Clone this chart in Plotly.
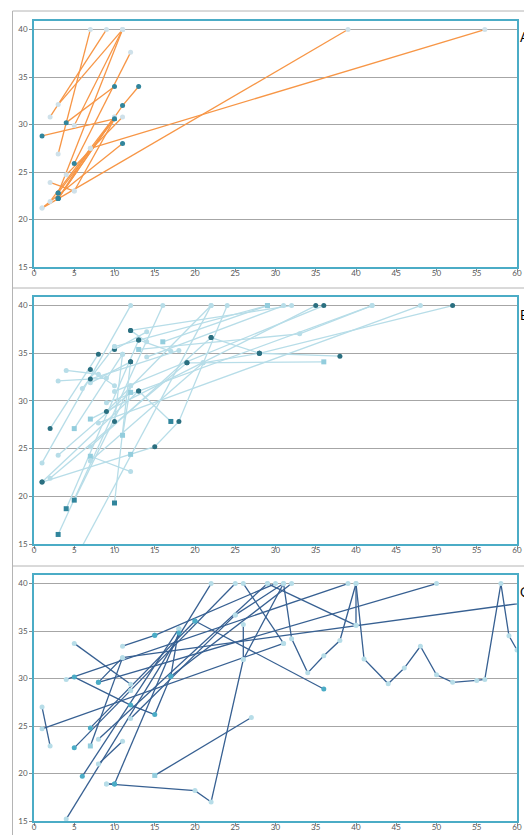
import plotly.graph_objects as go

# ---------------- data (segments separated by None) ----------------
# kinds: L = light circle, D = dark circle, S = dark square, s = light square, T = teal, N = none
a_x = [3, 7, None, 2, 9, None, 3, 11, None, 5, 11, None, 4, 10, None, 1, 10, None,
       3, 11, 13, None, 5, 12, None, 3, 11, None, 1, 39, None, 7, 56, None, 2, 5, None,
       2, 10, None, 4, 11, None, 1, 11, None, 3, 10, None, 3, 10, None, 5, 10, None, 3, 7]
a_y = [26.9, 40, None, 30.8, 40, None, 32.1, 40, None, 29.9, 40, None, 30.2, 34, None, 28.8, 30.6, None,
       22.2, 32, 34, None, 25.9, 37.6, None, 22.8, 40, None, 21.2, 40, None, 27.5, 40, None, 23.9, 23, None,
       21.9, 30.8, None, 24.7, 30.8, None, 21.2, 28, None, 22.8, 30.6, None, 22.2, 30.8, None, 23, 30.6, None, 22.2, 27.5]
a_k = ['L', 'L', None, 'L', 'L', None, 'L', 'L', None, 'L', 'L', None, 'D', 'D', None, 'D', 'D', None,
       'D', 'D', 'D', None, 'D', 'L', None, 'D', 'L', None, 'L', 'L', None, 'L', 'L', None, 'L', 'L', None,
       'L', 'L', None, 'L', 'L', None, 'L', 'D', None, 'D', 'D', None, 'D', 'L', None, 'L', 'D', None, 'D', 'L']

b_x = [2, 8, None, 1, 12, None, 4, 8, None, 3, 9, None, 7, 10, None, 3, 16, None, 5.5, 22, None,
       4, 13, None, 5, 12, None, 10, 12, None, 1, 13, None, 2, 19, None, 1, 12, 15, 18, 24, None,
       7, 12, None, 3, 12, None, 13, 17, None, 11, 12, None, 10, 14, None, 9, 22, None, 7, 35, None,
       10, 36, None, 9, 42, None, 8, 48, None, 22, 28, 52, None, 28, 38, None, 13, 33, 42, None,
       16, 29, None, 14, 31, None, 12, 32, None, 19, 36, None, 21, 28, None, 13, 17, None, 5, 11, None,
       6, 10, None, 7, 12, None, 7, 18, None, 12, 14, None, 10, 11, None, 7, 22, None, 7, 21, None, 10, 29]
b_y = [27.1, 34.9, None, 23.5, 40, None, 33.2, 32.8, None, 32.1, 32.4, None, 33.3, 31.6, None, 16, 40, None, 14, 40, None,
       18.7, 36.4, None, 19.6, 31.6, None, 19.3, 34.1, None, 21.5, 31.05, None, 21.9, 34, None, 21.5, 24.4, 25.2, 27.85, 40, None,
       24.2, 22.6, None, 24.3, 30.9, None, 31.05, 27.85, None, 26.4, 31.6, None, 35.4, 37.25, None, 28.9, 40, None, 28.1, 40, None,
       31, 40, None, 29.8, 40, None, 27.7, 40, None, 36.65, 35, 40, None, 35, 34.7, None, 35.4, 37.04, 40, None,
       36.2, 40, None, 34.6, 40, None, 37.4, 40, None, 34, 34.1, None, 34, 35, None, 36.4, 35.2, None, 27.1, 34.9, None,
       31.3, 35.7, None, 31.9, 34.1, None, 32.3, 35.3, None, 37.4, 36.2, None, 27.85, 34.9, None, 25.2, 36.65, None, 23.7, 34, None, 35.7, 40]
b_k = ['D', 'D', None, 'L', 'L', None, 'L', 'L', None, 'L', 'L', None, 'D', 'L', None, 'S', 'L', None, 'N', 'L', None,
       'S', 'D', None, 'S', 'L', None, 'S', 'D', None, 'D', 'D', None, 'L', 'D', None, 'D', 's', 'D', 'D', 'L', None,
       's', 'L', None, 'L', 's', None, 'D', 'S', None, 's', 'L', None, 'D', 'L', None, 'D', 'L', None, 's', 'D', None,
       'L', 'D', None, 'L', 'L', None, 'L', 'L', None, 'D', 'D', 'D', None, 'D', 'D', None, 's', 'L', 'L', None,
       's', 's', None, 'L', 'L', None, 'D', 'L', None, 'D', 's', None, 'L', 'D', None, 'D', 'L', None, 's', 'L', None,
       'L', 'L', None, 'L', 'D', None, 'D', 'L', None, 'D', 'L', None, 'D', 'L', None, 'L', 'D', None, 'L', 'L', None, 'L', 's']

c_x = [9, 20, 22, 26, 31, 32, 34, 36, 38, 40, 41, 44, 46, 48, 50, 52, 55, 56, 58, 59, 60, None,
       40, 40, None, 29, 40, None, 1, 2, None, 1, 31, None, 4, 22, None, 5, 12, None,
       4, 39, None, 5, 12, 15, 17, 18, None, 11, 15, None, 8, 11, 62, None, 7, 11, None,
       5, 12, None, 7, 20, None, 6, 18, None, 8, 11, None, 10, 18, None, 15, 27, None,
       12, 25, None, 20, 36, None, 26, 31, None, 8, 50, None, 15, 30, None, 12, 25, None,
       17, 32, None, 8, 29, None, 25, 31, None, 26, 26, None, 10, 9]
c_y = [18.9, 18.2, 17, 32, 40, 34.2, 30.6, 32.4, 34, 40, 32.05, 29.45, 31.1, 33.4, 30.4, 29.6, 29.8, 29.9, 40, 34.5, 33, None,
       40, 35.6, None, 40, 35.6, None, 27, 22.9, None, 24.7, 33.7, None, 15.2, 40, None, 33.7, 29.4, None,
       29.9, 40, None, 30.15, 27.2, 26.2, 30.25, 35.25, None, 33.4, 34.55, None, 29.6, 32.2, 38.1, None, 22.9, 32.2, None,
       22.7, 28.75, None, 24.8, 36.06, None, 19.7, 35.25, None, 21, 23.4, None, 18.9, 34.8, None, 19.8, 25.9, None,
       25.8, 36.7, None, 36.06, 28.9, None, 40, 33.7, None, 29.6, 40, None, 34.55, 40, None, 28.75, 40, None,
       30.25, 40, None, 23.6, 40, None, 36.7, 40, None, 32, 35.7, None, 18.9, 18.9]
c_k = ['L', 'L', 'L', 'L', 'L', 'L', 'L', 'L', 'L', 'L', 'L', 'L', 'L', 'L', 'L', 'L', 'L', 'L', 'L', 'L', 'L', None,
       'L', 'L', None, 'L', 'L', None, 'L', 'L', None, 'L', 'L', None, 'L', 'L', None, 'L', 'L', None,
       'L', 'L', None, 'T', 'T', 'T', 'T', 'L', None, 'L', 'T', None, 'T', 'L', 'N', None, 's', 'L', None,
       'T', 'L', None, 'T', 'T', None, 'T', 'L', None, 'L', 'L', None, 'T', 'T', None, 's', 'L', None,
       'L', 'L', None, 'T', 'T', None, 'L', 'L', None, 'T', 'L', None, 'T', 'L', None, 'L', 'L', None,
       'T', 'L', None, 'L', 'L', None, 'L', 'L', None, 'L', 'L', None, 'T', 'L']

panel_labels = ['A', 'B', 'C']
y_ticks = [15, 20, 25, 30, 35, 40]
x_ticks = list(range(0, 61, 5))

# ---------------- styling ----------------
W, H = 524, 835
panels = [
    dict(x=a_x, y=a_y, k=a_k, line='#f79646',
         colors={'L': '#cfe1ea', 'D': '#31859c', 'S': '#31859c', 's': '#a5d5e2', 'T': '#4bacc6', 'N': 'rgba(0,0,0,0)'},
         top=21, bottom=267, lab_y=37),
    dict(x=b_x, y=b_y, k=b_k, line='#b7dde8',
         colors={'L': '#b7dde8', 'D': '#2a6f80', 'S': '#31859c', 's': '#93cddd', 'T': '#4bacc6', 'N': 'rgba(0,0,0,0)'},
         top=297, bottom=544, lab_y=315),
    dict(x=c_x, y=c_y, k=c_k, line='#376092',
         colors={'L': '#b7dde8', 'D': '#31859c', 'S': '#31859c', 's': '#93cddd', 'T': '#4bacc6', 'N': 'rgba(0,0,0,0)'},
         top=575, bottom=821, lab_y=592),
]

fig = go.Figure()
layout = dict(width=W, height=H, margin=dict(l=0, r=0, t=0, b=0, autoexpand=False),
              paper_bgcolor='white', plot_bgcolor='white', showlegend=False,
              font=dict(family='Lato, Open Sans, sans-serif', size=8, color='#595959'))
annotations = []
shapes = []
xdom = [34 / W, 517 / W]
for i, p in enumerate(panels):
    n = '' if i == 0 else str(i + 1)
    symbols = [('square' if kk in ('S', 's') else 'circle') if kk else 'circle' for kk in p['k']]
    cols = [p['colors'][kk] if kk else 'rgba(0,0,0,0)' for kk in p['k']]
    fig.add_trace(go.Scatter(
        x=p['x'], y=p['y'], mode='lines+markers', connectgaps=False,
        line=dict(color=p['line'], width=1.3),
        marker=dict(size=5, color=cols, symbol=symbols, line=dict(width=0)),
        xaxis='x' + n, yaxis='y' + n, hoverinfo='skip'))
    ydom = [1 - p['bottom'] / H, 1 - p['top'] / H]
    layout['xaxis' + n] = dict(domain=xdom, range=[0, 60], tickvals=x_ticks, showgrid=False,
                               showline=True, mirror=True, linecolor='#4bacc6', linewidth=1.5,
                               ticks='outside', ticklen=3, tickcolor='#8c8c8c', zeroline=False,
                               ticklabelstandoff=-5, automargin=False,
                               anchor='y' + n, fixedrange=True)
    layout['yaxis' + n] = dict(domain=ydom, range=[15, 40.9], tickvals=y_ticks, showgrid=True,
                               gridcolor='#a6a6a6', gridwidth=1,
                               showline=True, mirror=True, linecolor='#4bacc6', linewidth=1.5,
                               ticks='outside', ticklen=3, tickcolor='#8c8c8c', zeroline=False,
                               automargin=False,
                               anchor='x' + n, fixedrange=True)
    annotations.append(dict(text=panel_labels[i], x=518 / W, y=1 - p['lab_y'] / H, xref='paper', yref='paper',
                            xanchor='left', yanchor='middle', showarrow=False,
                            font=dict(size=13, color='#000000', family='Lato, Open Sans, sans-serif')))

# outer chart-area frames
frame_col = '#b4b4b4'
shapes.append(dict(type='line', xref='paper', yref='paper', x0=12.5 / W, x1=12.5 / W, y0=0, y1=1 - 11 / H,
                   line=dict(color=frame_col, width=1)))
for yy in (11, 288, 566):
    shapes.append(dict(type='line', xref='paper', yref='paper', x0=12.5 / W, x1=1, y0=1 - yy / H, y1=1 - yy / H,
                       line=dict(color=frame_col, width=1)))
layout['annotations'] = annotations
layout['shapes'] = shapes
fig.update_layout(**layout)
fig.write_html('out.html', config={'displayModeBar': False},
               post_script="document.body.style.margin='0';document.body.style.overflow='hidden';")
